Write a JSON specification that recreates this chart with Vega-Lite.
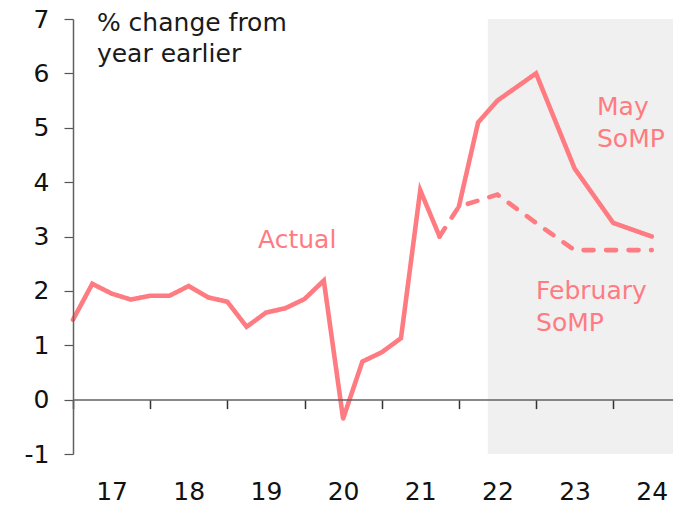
{
  "$schema": "https://vega.github.io/schema/vega-lite/v6.json",
  "width": 600,
  "height": 435,
  "autosize": "none",
  "padding": {"left": 73, "top": 19, "right": 0, "bottom": 53},
  "background": "white",
  "config": {
    "view": {"stroke": null},
    "font": "DejaVu Sans",
    "axis": {"grid": false, "title": null}
  },
  "datasets": {
    "cpi": [
      {"k": 0, "v": 1.47, "s": "Actual"},
      {"k": 1, "v": 2.13, "s": "Actual"},
      {"k": 2, "v": 1.95, "s": "Actual"},
      {"k": 3, "v": 1.84, "s": "Actual"},
      {"k": 4, "v": 1.91, "s": "Actual"},
      {"k": 5, "v": 1.91, "s": "Actual"},
      {"k": 6, "v": 2.09, "s": "Actual"},
      {"k": 7, "v": 1.88, "s": "Actual"},
      {"k": 8, "v": 1.8, "s": "Actual"},
      {"k": 9, "v": 1.34, "s": "Actual"},
      {"k": 10, "v": 1.6, "s": "Actual"},
      {"k": 11, "v": 1.68, "s": "Actual"},
      {"k": 12, "v": 1.85, "s": "Actual"},
      {"k": 13, "v": 2.19, "s": "Actual"},
      {"k": 14, "v": -0.35, "s": "Actual"},
      {"k": 15, "v": 0.7, "s": "Actual"},
      {"k": 16, "v": 0.87, "s": "Actual"},
      {"k": 17, "v": 1.13, "s": "Actual"},
      {"k": 18, "v": 3.85, "s": "Actual"},
      {"k": 19, "v": 3.0, "s": "Actual"},
      {"k": 20, "v": 3.55, "s": "May SoMP"},
      {"k": 21, "v": 5.1, "s": "May SoMP"},
      {"k": 22, "v": 5.5, "s": "May SoMP"},
      {"k": 24, "v": 6.0, "s": "May SoMP"},
      {"k": 26, "v": 4.25, "s": "May SoMP"},
      {"k": 28, "v": 3.25, "s": "May SoMP"},
      {"k": 30, "v": 3.0, "s": "May SoMP"},
      {"k": 19, "v": 3.0, "s": "February SoMP"},
      {"k": 20, "v": 3.55, "s": "February SoMP"},
      {"k": 22, "v": 3.77, "s": "February SoMP"},
      {"k": 24, "v": 3.25, "s": "February SoMP"},
      {"k": 26, "v": 2.75, "s": "February SoMP"},
      {"k": 28, "v": 2.75, "s": "February SoMP"},
      {"k": 30, "v": 2.75, "s": "February SoMP"}
    ],
    "shade": [{"start": 21.5, "end": 31.1}],
    "one": [{}]
  },
  "resolve": {"axis": {"x": "independent", "y": "independent"}},
  "layer": [
    {
      "data": {"name": "shade"},
      "mark": {"type": "rect", "fill": "#f0f0f0"},
      "encoding": {
        "x": {
          "field": "start", "type": "quantitative",
          "scale": {"domain": [0, 31.1], "nice": false, "zero": false},
          "axis": {
            "orient": "bottom", "offset": -54.4, "values": [0, 4, 8, 12, 16, 20, 24, 28],
            "labels": false, "tickSize": 9, "tickColor": "#333333", "tickWidth": 1.5,
            "domainColor": "#606060", "domainWidth": 1.5, "zindex": 1
          }
        },
        "x2": {"field": "end"},
        "y": {
          "datum": 7, "type": "quantitative",
          "scale": {"domain": [-1, 7], "nice": false, "zero": false},
          "axis": {
            "values": [-1, 0, 1, 2, 3, 4, 5, 6, 7], "labelExpr": "'' + datum.value",
            "tickSize": 9, "tickColor": "#555555", "tickWidth": 1.2,
            "domainColor": "#606060", "domainWidth": 1.5, "labelFontSize": 25, "labelColor": "#111111",
            "labelPadding": 15, "labelFont": "DejaVu Sans", "zindex": 1
          }
        },
        "y2": {"datum": -1}
      }
    },
    {
      "data": {"name": "cpi"},
      "mark": {"type": "line", "color": "#ff7b82", "strokeWidth": 4.6, "strokeCap": "round"},
      "encoding": {
        "x": {
          "field": "k", "type": "quantitative",
          "axis": {
            "orient": "bottom", "values": [2, 6, 10, 14, 18, 22, 26, 30],
            "labelExpr": "'' + (17 + (datum.value - 2) / 4)",
            "ticks": false, "domain": false, "labelFontSize": 25, "labelColor": "#111111",
            "labelBaseline": "alphabetic", "labelPadding": 45, "labelFont": "DejaVu Sans"
          }
        },
        "y": {"field": "v", "type": "quantitative", "axis": null},
        "detail": {"field": "s"},
        "strokeDash": {
          "field": "s", "type": "nominal",
          "scale": {"domain": ["Actual", "May SoMP", "February SoMP"], "range": [[1, 0], [1, 0], [10, 12.5]]},
          "legend": null
        }
      }
    },
    {
      "data": {"name": "one"},
      "mark": {"type": "text", "align": "left", "baseline": "alphabetic", "fontSize": 25, "color": "#1a1a1a", "lineHeight": 31},
      "encoding": {
        "x": {"datum": 1.24, "type": "quantitative", "axis": null},
        "y": {"datum": 6.78, "type": "quantitative", "axis": null},
        "text": {"value": ["% change from", "year earlier"]}
      }
    },
    {
      "data": {"name": "one"},
      "mark": {"type": "text", "align": "left", "baseline": "alphabetic", "fontSize": 25, "color": "#ff7b82"},
      "encoding": {
        "x": {"datum": 9.59, "type": "quantitative", "axis": null},
        "y": {"datum": 2.79, "type": "quantitative", "axis": null},
        "text": {"value": "Actual"}
      }
    },
    {
      "data": {"name": "one"},
      "mark": {"type": "text", "align": "left", "baseline": "alphabetic", "fontSize": 25, "color": "#ff7b82", "lineHeight": 32},
      "encoding": {
        "x": {"datum": 27.16, "type": "quantitative", "axis": null},
        "y": {"datum": 5.23, "type": "quantitative", "axis": null},
        "text": {"value": ["May", "SoMP"]}
      }
    },
    {
      "data": {"name": "one"},
      "mark": {"type": "text", "align": "left", "baseline": "alphabetic", "fontSize": 25, "color": "#ff7b82", "lineHeight": 31.5},
      "encoding": {
        "x": {"datum": 24.0, "type": "quantitative", "axis": null},
        "y": {"datum": 1.845, "type": "quantitative", "axis": null},
        "text": {"value": ["February", "SoMP"]}
      }
    }
  ]
}
